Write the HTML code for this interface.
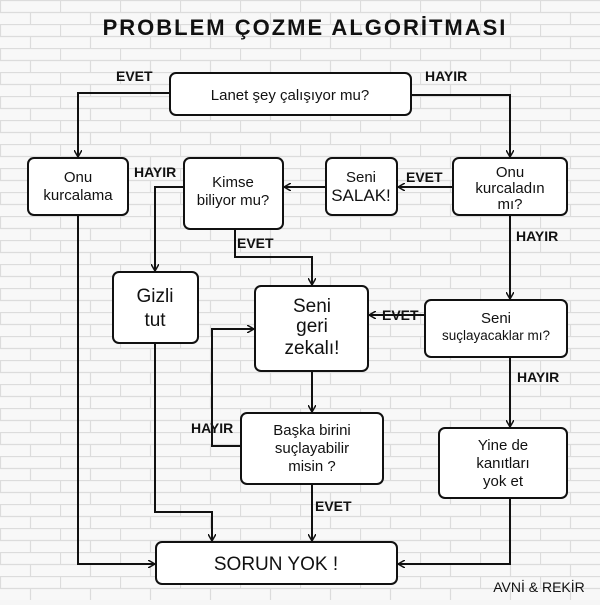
<!DOCTYPE html>
<html><head><meta charset="utf-8"><style>
body{margin:0;width:600px;height:600px;overflow:hidden;background:#f6f6f6;}
svg text{font-family:"Liberation Sans",sans-serif;fill:#111;}
</style></head><body>
<svg width="600" height="600" viewBox="0 0 600 600" xmlns="http://www.w3.org/2000/svg">
<defs>
<pattern id="br" width="60" height="24" patternUnits="userSpaceOnUse">
<rect width="60" height="24" fill="#f8f8f8"/>
<path d="M0 0.5H60M0 12.5H60M0.5 0V12M30.5 12V24" stroke="#dcdcdc" stroke-width="1.2" fill="none"/>
</pattern>
<marker id="a" markerWidth="8" markerHeight="8" refX="7" refY="4" orient="auto" markerUnits="userSpaceOnUse">
<path d="M0 0L7 4L0 8" fill="none" stroke="#111" stroke-width="1.5"/>
</marker>
</defs>
<rect width="600" height="600" fill="url(#br)"/>
<text x="305" y="35" font-size="22" text-anchor="middle" letter-spacing="2" font-weight="bold">PROBLEM ÇOZME ALGORİTMASI</text>
<g fill="#fff" stroke="#111" stroke-width="2">
<rect x="170" y="73" width="241" height="42" rx="6"/>
<rect x="28" y="158" width="100" height="57" rx="6"/>
<rect x="184" y="158" width="99" height="71" rx="6"/>
<rect x="326" y="158" width="71" height="57" rx="6"/>
<rect x="453" y="158" width="114" height="57" rx="6"/>
<rect x="113" y="272" width="85" height="71" rx="6"/>
<rect x="255" y="286" width="113" height="85" rx="6"/>
<rect x="425" y="300" width="142" height="57" rx="6"/>
<rect x="241" y="413" width="142" height="71" rx="6"/>
<rect x="439" y="428" width="128" height="70" rx="6"/>
<rect x="156" y="542" width="241" height="42" rx="6"/>
</g>
<g fill="none" stroke="#111" stroke-width="2">
<path d="M170 93H78V157" marker-end="url(#a)"/>
<path d="M411 95H510V157" marker-end="url(#a)"/>
<path d="M453 187H398" marker-end="url(#a)"/>
<path d="M326 187H284" marker-end="url(#a)"/>
<path d="M184 187H155V271" marker-end="url(#a)"/>
<path d="M235 229V257H312V285" marker-end="url(#a)"/>
<path d="M510 215V299" marker-end="url(#a)"/>
<path d="M425 315H369" marker-end="url(#a)"/>
<path d="M510 357V427" marker-end="url(#a)"/>
<path d="M312 371V412" marker-end="url(#a)"/>
<path d="M241 446H212V329H254" marker-end="url(#a)"/>
<path d="M312 484V541" marker-end="url(#a)"/>
<path d="M155 343V512H212V541" marker-end="url(#a)"/>
<path d="M78 215V564H155" marker-end="url(#a)"/>
<path d="M510 498V564H398" marker-end="url(#a)"/>
</g>
<g font-size="14" font-weight="bold">
<text x="116" y="81">EVET</text>
<text x="425" y="81">HAYIR</text>
<text x="406" y="182">EVET</text>
<text x="134" y="177">HAYIR</text>
<text x="237" y="248">EVET</text>
<text x="516" y="241">HAYIR</text>
<text x="382" y="320">EVET</text>
<text x="517" y="382">HAYIR</text>
<text x="191" y="433">HAYIR</text>
<text x="315" y="511">EVET</text>
</g>
<g font-size="15" text-anchor="middle">
<text x="290" y="100">Lanet şey çalışıyor mu?</text>
<text x="78" y="182">Onu</text><text x="78" y="200">kurcalama</text>
<text x="233" y="187">Kimse</text><text x="233" y="205">biliyor mu?</text>
<text x="361" y="182">Seni</text><text x="361" y="201" font-size="17">SALAK!</text>
<text x="510" y="177">Onu</text><text x="510" y="193">kurcaladın</text><text x="510" y="209">mı?</text>
<text x="496" y="323">Seni</text><text x="496" y="340" font-size="13.5">suçlayacaklar mı?</text>
<text x="312" y="435">Başka birini</text><text x="312" y="453">suçlayabilir</text><text x="312" y="471">misin ?</text>
<text x="503" y="450">Yine de</text><text x="503" y="468">kanıtları</text><text x="503" y="486">yok et</text>
</g>
<g font-size="19" text-anchor="middle">
<text x="155" y="302">Gizli</text><text x="155" y="326">tut</text>
<text x="312" y="312">Seni</text><text x="312" y="332">geri</text><text x="312" y="354">zekalı!</text>
<text x="276" y="570">SORUN YOK !</text>
</g>
<text x="539" y="592" font-size="14" text-anchor="middle">AVNİ &amp; REKİR</text>
</svg>
</body></html>
